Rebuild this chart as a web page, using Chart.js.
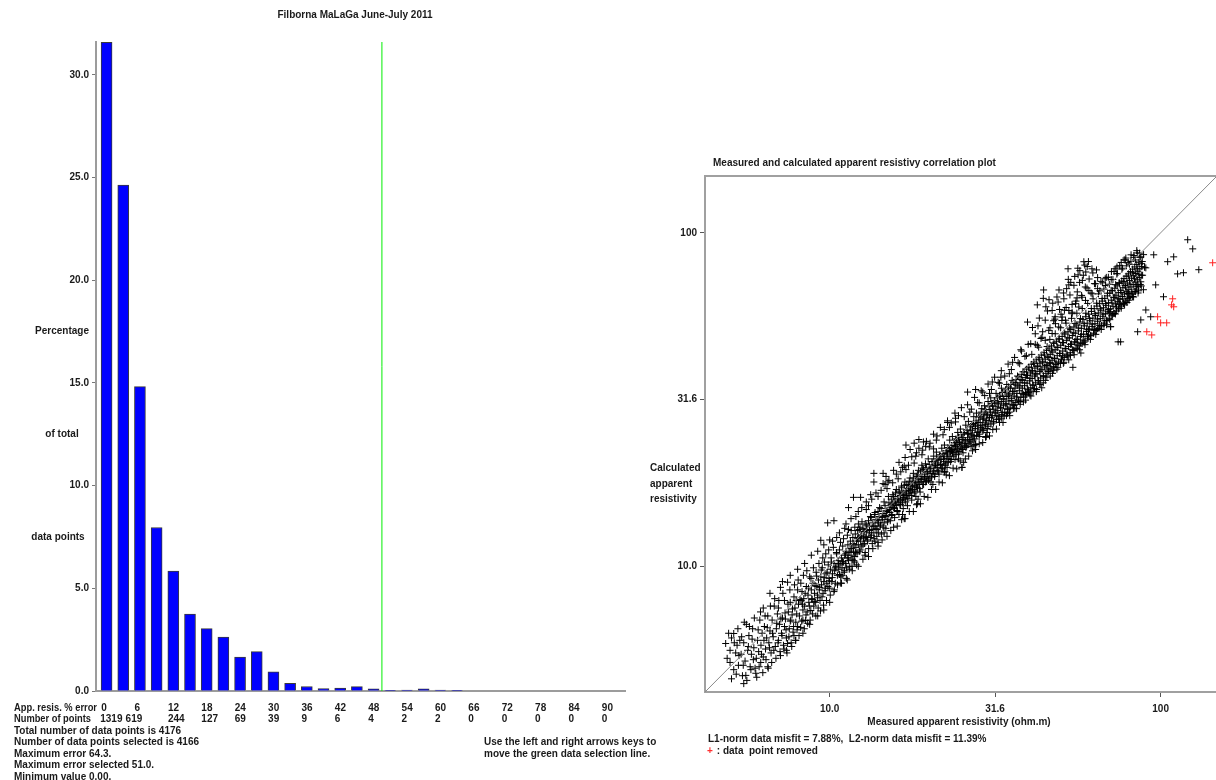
<!DOCTYPE html>
<html>
<head>
<meta charset="utf-8">
<script src="https://cdn.jsdelivr.net/npm/chart.js@4"></script>
<style>
html,body{margin:0;padding:0;background:#fff;overflow:hidden;width:1216px;height:780px;}
#histo{position:absolute;left:0;top:0;}
#corr{position:absolute;left:640px;top:0;}
</style>
</head>
<body>
<canvas id="histo" width="660" height="780"></canvas>
<canvas id="corr" width="582" height="780"></canvas>
<script>
// ---- histogram data (percentage of total data points per 3% error bin)
var binCenters = [1.5,4.5,7.5,10.5,13.5,16.5,19.5,22.5,25.5,28.5,31.5,34.5,37.5,40.5,43.5,46.5,49.5,52.5,55.5,58.5,61.5,64.5];
var binPercent = [31.59,24.63,14.82,7.96,5.84,3.74,3.04,2.63,1.65,1.92,0.93,0.37,0.22,0.12,0.14,0.21,0.10,0.03,0.05,0.10,0.05,0.03];
var errorLabels = [0,6,12,18,24,30,36,42,48,54,60,66,72,78,84,90];
var pointCounts = [1319,619,244,127,69,39,9,6,4,2,2,0,0,0,0,0];
var maxErrorSelected = 51.0;
var percentMax = 31.6;
var summaryLines = ['Total number of data points is 4176','Number of data points selected is 4166','Maximum error 64.3.','Maximum error selected 51.0.','Minimum value 0.00.'];

// ---- correlation plot data: [measured, calculated] in ohm.m
var fitPoints = [
[4.85,5.87],[4.9,5.3],[5.0,5.15],[5.0,5.6],[5.05,6.1],[5.13,6.29],[5.13,4.9],[5.2,5.5],[5.25,5.8],[5.3,5.05],[5.35,6.0],[5.4,5.45],[5.45,4.7],[5.5,4.45],[5.5,5.9],[5.55,5.2],[5.58,4.71],[5.6,6.7],[5.65,5.6],[5.7,6.2],[5.75,5.0],[5.8,5.45],[5.85,6.5],[5.9,5.7],[5.95,4.95],[5.98,4.78],[6.0,5.3],[6.05,6.0],[6.1,5.55],[6.15,6.9],[6.19,5.15],[6.2,5.8],[6.25,6.3],[6.3,7.5],[6.3,5.35],[6.35,6.6],[6.4,5.65],[6.45,6.1],[6.5,7.1],[6.5,5.0],[6.55,5.9],[6.6,8.3],[6.6,6.4],[6.65,5.5],[6.7,6.9],[6.75,6.15],[6.8,7.6],[6.85,5.75],[6.9,6.5],[6.95,7.2],
[4.95,6.3],[5.05,4.6],[5.15,5.9],[5.22,4.75],[5.28,6.5],[5.32,5.4],[5.42,6.15],[5.48,5.05],[5.52,6.8],[5.62,4.55],[5.68,5.75],[5.72,6.6],[5.78,4.9],[5.83,6.05],[5.88,5.25],[5.92,7.0],[6.02,4.65],[6.08,6.45],[6.12,5.0],[6.18,7.3],[6.22,5.45],[6.28,4.8],[6.33,6.0],[6.38,7.1],[6.42,5.25],[6.48,6.55],[6.52,4.95],[6.58,5.7],[6.62,7.6],[6.68,5.15],[6.72,6.3],[6.78,5.6],[6.82,8.0],[6.88,5.3],[6.92,6.75],[6.98,5.9],
[7.0,6.0],[7.0,7.5],[7.05,6.7],[7.1,5.4],[7.1,8.65],[7.15,6.3],[7.2,7.0],[7.25,5.8],[7.3,6.6],[7.3,7.9],[7.35,6.95],[7.4,6.1],[7.46,8.96],[7.46,5.87],[7.5,7.3],[7.55,6.5],[7.6,7.8],[7.6,6.85],[7.65,5.9],[7.7,7.15],[7.75,6.35],[7.8,6.2],[7.8,8.1],[7.85,7.5],[7.9,6.8],[7.95,7.2],[8.0,8.5],[8.0,6.6],[8.05,7.7],[8.1,7.1],[8.17,6.56],[8.2,7.9],[8.25,8.4],[8.3,7.4],[8.3,6.9],[8.35,8.0],[8.4,7.6],[8.46,6.88],[8.5,8.7],[8.55,7.3],[8.6,8.2],[8.65,7.8],[8.7,9.3],[8.77,7.37],[8.8,8.5],[8.85,7.95],[8.9,8.9],[8.95,7.6],[9.0,8.3],[9.07,7.8],[9.1,9.6],[9.15,8.7],[9.2,8.05],[9.25,9.1],[9.3,8.5],[9.35,7.9],[9.4,11.97],[9.4,9.3],[9.45,8.8],[9.5,9.9],[9.55,8.3],[9.6,9.0],[9.65,10.3],[9.7,8.6],[9.75,9.5],[9.8,8.9],[9.86,13.5],[9.9,10.1],[9.95,9.2],[10.0,8.6],
[7.02,7.9],[7.08,5.55],[7.12,6.95],[7.18,6.2],[7.22,8.3],[7.28,5.65],[7.33,7.25],[7.38,6.45],[7.43,5.5],[7.48,7.7],[7.53,6.15],[7.58,8.5],[7.63,6.9],[7.68,5.75],[7.72,7.45],[7.78,6.6],[7.83,8.8],[7.88,6.0],[7.92,7.9],[7.97,6.45],
[7.2,9.0],[7.6,9.4],[8.0,9.8],[8.4,10.2],[8.8,10.8],[9.2,11.1],[9.6,11.6],[10.0,12.0],[7.4,5.6],[7.9,6.0],[8.3,6.3],[8.7,6.7],[9.2,7.1],[9.6,7.4],[10.0,7.8],
[8.03,9.1],[8.08,6.2],[8.13,7.95],[8.18,8.9],[8.23,6.85],[8.28,7.7],[8.33,9.4],[8.38,6.5],[8.43,8.3],[8.48,7.15],[8.53,9.7],[8.58,6.75],[8.63,8.6],[8.68,7.6],[8.73,6.9],[8.78,9.2],[8.83,8.0],[8.88,7.2],[8.93,9.9],[8.98,7.85],[9.03,8.75],[9.08,7.1],[9.13,9.35],[9.18,8.2],[9.23,7.5],[9.28,10.2],[9.33,8.65],[9.38,7.35],[9.43,9.75],[9.48,8.1],[9.53,10.6],[9.58,7.65],[9.63,9.25],[9.68,8.45],[9.73,10.9],[9.78,7.9],[9.83,9.6],[9.88,8.7],[9.93,11.2],[9.98,9.05],
[10.04,8.2],[10.12,10.3],[10.18,9.25],[10.26,11.4],[10.33,8.5],[10.4,9.9],[10.48,11.0],[10.56,8.8],[10.63,10.2],[10.71,9.45],[10.78,11.8],[10.86,8.9],[10.93,10.35],[11.01,12.1],[11.08,9.7],[11.16,10.9],[11.23,9.2],[11.31,12.4],[11.38,10.6],[11.46,9.8],[11.53,11.3],[11.61,12.8],[11.68,10.0],[11.76,11.7],[11.83,10.4],[11.91,13.1],[11.98,11.0],[12.06,10.1],[12.13,12.1],[12.21,13.4],
[10.05,9.8],[10.1,10.6],[10.15,9.0],[10.2,9.5],[10.3,13.7],[10.3,10.2],[10.35,9.7],[10.4,8.9],[10.45,10.0],[10.5,10.9],[10.55,9.4],[10.6,10.4],[10.65,9.8],[10.7,11.2],[10.75,10.1],[10.8,9.3],[10.85,10.6],[10.9,9.9],[10.95,11.5],[11.0,10.3],[11.05,9.6],[11.1,10.8],[11.15,10.2],[11.2,13.4],[11.2,11.1],[11.25,9.9],[11.3,10.6],[11.35,11.6],[11.4,15.0],[11.4,10.4],[11.45,11.0],[11.5,10.0],[11.55,11.9],[11.6,10.8],[11.65,11.3],[11.7,10.5],[11.75,12.2],[11.8,16.1],[11.8,11.1],[11.85,11.6],[11.9,10.7],[11.95,12.5],[12.0,11.4],[12.05,11.9],[12.1,10.9],[12.15,12.8],[12.2,11.6],[12.25,12.2],[12.3,11.1],[12.35,13.1],[12.4,16.1],[12.4,11.9],[12.45,12.4],[12.5,11.5],[12.6,13.0],[12.65,12.1],[12.7,12.7],[12.75,11.7],[12.8,13.4],[12.9,12.3],[12.95,12.9],[13.0,11.9],[13.1,13.7],[13.15,12.6],[13.2,13.2],[13.3,12.2],[13.35,14.0],[13.4,12.9],[13.5,13.5],[13.6,19.0],[13.6,17.9],[13.6,12.6],[13.65,14.3],[13.7,13.2],[13.8,13.8],[13.9,12.9],[14.0,14.6],[14.05,13.5],[14.1,14.1],[14.2,13.2],[14.3,14.9],[14.4,13.8],[14.5,19.0],[14.5,17.7],[14.5,14.4],[14.6,13.5],[14.7,15.2],[14.8,14.1],[14.9,14.7],[15.0,13.8],[15.1,15.5],[15.2,14.5],
[10.2,11.9],[10.7,12.6],[11.1,13.0],[11.6,13.9],[12.0,14.1],[12.5,15.0],[12.9,14.8],[13.4,15.9],[13.8,16.6],[14.3,16.9],[14.7,17.6],[15.1,18.1],[10.5,12.2],[11.4,12.9],[12.2,14.6],[13.1,15.2],[14.0,16.2],[14.9,17.1],
[10.3,8.4],[10.8,8.9],[11.3,9.1],[11.7,9.7],[12.2,10.0],[12.6,10.5],[13.1,10.7],[13.5,11.3],[14.0,11.5],[14.4,12.0],[14.9,12.3],[15.3,12.8],[10.9,9.4],[11.9,10.3],[12.8,11.0],[13.7,11.9],[14.6,12.6],
[12.28,12.9],[12.36,11.2],[12.44,12.3],[12.52,13.6],[12.61,11.6],[12.69,12.7],[12.78,10.8],[12.86,12.2],[12.94,13.3],[13.03,12.0],[13.11,11.3],[13.2,12.8],[13.28,14.1],[13.37,12.4],[13.45,11.7],[13.54,13.2],[13.62,12.1],[13.71,14.5],[13.8,13.0],[13.88,12.3],[13.97,13.7],[14.06,12.6],[14.15,15.0],[14.24,13.3],[14.33,12.5],[14.42,14.0],[14.51,13.1],[14.6,15.6],[14.69,14.2],[14.78,13.0],[14.87,14.6],[14.96,13.6],[15.05,16.2],[15.14,14.8],[15.24,13.7],[15.33,15.3],[15.42,14.2],[15.52,16.4],[15.61,15.0],[15.71,14.0],[15.8,15.5],[15.9,17.0],[15.99,14.7],[16.09,15.9],[16.19,14.3],[16.29,16.6],[16.38,15.3],[16.48,17.4],[16.58,15.8],[16.68,14.9],[16.78,16.4],[16.88,17.9],[16.98,15.6],[17.08,16.9],[17.18,15.2],[17.28,17.5],[17.38,16.3],[17.49,18.4],[17.59,16.7],[17.69,15.8],[17.8,17.3],[17.9,19.0],[18.01,16.6],[18.11,17.8],[18.22,16.2],[18.33,18.6],[18.43,17.2],[18.54,19.4],[18.65,17.6],[18.76,16.7],[18.87,18.2],[18.98,20.1],
[12.9,15.6],[13.3,16.4],[14.8,18.6],[15.6,19.4],[16.2,20.5],[16.9,21.2],[17.5,22.4],[18.3,21.9],[15.0,17.9],[16.6,19.8],[18.6,24.0],[19.2,23.6],[14.0,11.8],[16.8,13.9],[18.4,15.4],
[15.5,17.8],[15.9,18.9],[16.4,19.2],[16.8,20.0],[17.3,20.1],[17.7,21.3],[18.2,21.4],[18.6,22.6],[19.1,22.3],[19.6,23.7],[20.1,23.4],[20.6,24.9],[21.1,24.6],[21.6,26.1],[22.2,25.7],[22.7,27.3],[23.3,26.9],[23.9,28.8],[24.5,28.3],[25.0,29.9],[16.1,18.3],[17.0,19.5],[18.0,20.4],[19.0,21.6],[20.0,22.8],[21.0,23.9],[22.0,24.8],[23.0,26.1],[24.0,27.1],
[15.6,13.1],[16.0,13.2],[16.5,13.8],[16.9,13.9],[17.4,14.6],[17.9,14.6],[18.3,15.3],[18.8,15.4],[19.3,16.2],[19.8,16.1],[20.3,17.0],[20.9,17.0],[21.4,17.9],[21.9,17.8],[22.5,18.8],[23.0,18.7],[23.6,19.7],[24.2,19.6],[24.8,20.7],[25.4,20.5],[16.6,14.3],[18.5,15.9],[20.5,17.6],[22.3,19.2],[24.5,21.0],
[15.3,15.0],[15.35,15.9],[15.4,14.3],[15.5,15.4],[15.6,16.2],[15.7,14.9],[15.75,15.7],[15.8,16.6],[15.9,15.2],[16.0,14.6],[16.05,16.0],[16.1,15.6],[16.2,16.8],[16.3,15.3],[16.35,16.3],[16.4,15.8],[16.5,17.2],[16.6,15.5],[16.65,16.6],[16.7,16.1],[16.8,17.5],[16.9,15.9],[17.0,23.1],[17.0,16.8],[17.05,16.3],[17.1,17.6],[17.2,16.0],[17.3,17.1],[17.35,16.5],[17.4,18.0],[17.5,16.9],[17.6,17.4],[17.7,16.3],[17.75,17.9],[17.8,17.0],[17.9,18.4],[18.0,23.4],[18.0,17.5],[18.1,16.8],[18.2,18.0],[18.3,17.3],[18.4,18.8],[18.5,17.8],[18.6,18.3],[18.7,17.1],[18.8,19.2],[18.9,18.0],[19.0,18.6],[19.1,17.6],[19.2,19.5],[19.3,18.3],[19.4,18.9],[19.5,22.9],[19.5,17.9],[19.6,19.8],[19.7,18.6],[19.8,19.2],[19.9,18.1],[20.0,20.2],[20.1,19.0],[20.2,19.6],[20.3,18.5],[20.5,20.6],[20.6,22.5],[20.6,19.3],[20.7,20.0],[20.8,18.9],[21.0,21.0],[21.1,19.8],[21.2,20.4],[21.3,19.2],[21.5,21.4],[21.6,20.2],[21.7,20.9],[21.8,19.7],[22.0,21.8],[22.1,20.6],[22.2,19.2],[22.2,21.3],[22.3,20.1],[22.5,22.2],[22.6,21.0],[22.7,27.0],[22.7,21.7],[22.8,20.5],[23.0,22.6],[23.1,21.4],[23.2,22.1],[23.3,20.9],
[19.1,19.7],[19.22,17.6],[19.35,18.5],[19.47,20.3],[19.6,18.0],[19.72,19.2],[19.85,21.0],[19.97,18.3],[20.1,19.7],[20.23,17.9],[20.36,20.6],[20.49,19.0],[20.62,21.4],[20.75,18.6],[20.88,20.1],[21.01,22.0],[21.14,19.4],[21.27,20.8],[21.4,18.9],[21.54,21.6],[21.67,20.1],[21.81,22.6],[21.94,19.6],[22.08,21.0],[22.22,23.1],[22.35,20.3],[22.49,21.9],[22.63,19.8],[22.77,22.7],[22.91,21.0],[23.05,23.9],[23.2,20.6],[23.34,22.2],[23.48,24.5],[23.63,21.4],[23.78,23.0],[23.92,20.9],[24.07,24.1],[24.22,22.3],[24.37,25.2],[24.52,21.7],[24.67,23.5],[24.83,25.8],[24.98,22.6],[25.14,24.3],[25.29,21.9],[25.45,25.1],[25.61,23.3],[25.77,26.5],[25.93,22.9],[26.09,24.9],[26.25,27.2],[26.41,23.6],[26.58,25.6],[26.74,22.9],[26.91,26.6],[27.08,24.6],[27.25,28.1],[27.42,24.1],[27.59,26.3],[27.76,28.8],[27.93,25.2],[28.1,27.0],[28.28,24.5],[28.46,28.2],[28.63,26.1],[28.81,29.7],[28.99,25.6],[29.17,27.8],[29.35,30.3],[29.54,26.6],[29.72,28.6],[29.91,25.9],
[23.4,23.0],[23.5,21.9],[23.6,22.4],[23.8,23.5],[23.9,22.0],[24.0,27.8],[24.0,22.9],[24.1,21.6],[24.2,23.8],[24.3,22.5],[24.4,23.2],[24.5,24.4],[24.6,22.1],[24.7,23.6],[24.8,22.8],[25.0,24.8],[25.1,19.8],[25.1,23.3],[25.2,22.4],[25.3,24.0],[25.5,25.2],[25.6,23.0],[25.7,23.8],[25.8,22.7],[26.0,25.6],[26.1,33.3],[26.1,24.3],[26.2,23.3],[26.3,25.0],[26.5,24.0],[26.6,26.2],[26.7,23.6],[26.8,24.8],[27.0,25.6],[27.1,23.9],[27.2,26.8],[27.3,24.6],[27.5,25.9],[27.6,33.9],[27.6,23.2],[27.7,27.3],[27.8,24.7],[28.0,26.5],[28.1,25.3],[28.2,28.0],[28.4,24.9],[28.5,27.0],[28.6,25.8],[28.7,29.0],[28.9,26.4],[29.0,33.3],[29.0,27.6],[29.2,25.6],[29.3,28.6],[29.5,26.9],[29.6,24.4],[29.6,29.5],[29.8,27.4],[30.0,28.4],[30.1,26.3],[30.3,30.2],[30.4,27.9],[30.6,29.0],[30.7,26.7],[30.9,30.8],[31.0,35.7],[31.0,28.3],[31.2,29.6],[31.3,27.2],[31.5,31.4],[31.6,28.8],[31.8,30.1],[31.9,27.6],[32.1,32.0],[32.2,29.3],[32.4,30.7],[32.5,28.1],[32.7,32.6],[32.9,36.9],[32.9,29.8],[33.0,31.2],[33.1,28.5],[33.3,33.2],[33.5,30.3],[33.6,31.8],[33.8,29.0],[34.0,33.8],[34.1,30.8],[34.3,32.3],[34.5,28.8],[34.5,29.5],[34.7,34.5],[34.8,31.3],[35.0,32.9],[35.1,30.0],[35.3,35.1],[35.5,31.9],[35.7,40.9],[35.7,33.4],[35.8,30.5],
[25.5,28.1],[26.1,30.5],[26.8,29.6],[27.4,32.1],[28.0,31.0],[28.7,33.6],[29.4,32.5],[30.1,35.2],[30.8,33.9],[31.5,36.9],[32.3,35.6],[33.0,38.6],[33.8,37.2],[34.6,40.4],[35.4,38.9],[36.2,42.3],[37.1,40.8],[38.0,44.2],[38.9,42.6],[39.8,46.3],[26.5,29.0],[28.3,30.9],[30.4,33.0],[32.6,35.4],[34.9,37.8],[37.5,40.5],[39.3,42.8],
[25.7,21.0],[26.3,21.4],[27.0,22.2],[27.6,22.4],[28.3,23.3],[29.0,23.5],[29.7,24.5],[30.4,24.6],[31.1,25.7],[31.9,25.8],[32.6,27.0],[33.4,27.0],[34.2,28.3],[35.0,28.3],[35.9,29.7],[36.7,29.7],[37.6,31.2],[38.5,31.1],[39.4,32.7],[40.3,32.6],[27.3,23.0],[29.9,25.2],[33.0,27.8],[36.1,30.4],[39.0,32.9],
[30.1,31.2],[30.28,27.3],[30.47,29.5],[30.66,32.0],[30.85,28.0],[31.04,30.3],[31.24,26.9],[31.43,31.1],[31.63,29.0],[31.82,33.0],[32.02,28.3],[32.22,30.9],[32.42,27.6],[32.62,32.3],[32.82,29.9],[33.03,34.2],[33.23,28.9],[33.44,31.7],[33.65,28.2],[33.86,33.3],[34.07,30.6],[34.28,35.1],[34.5,29.7],[34.71,32.6],[34.93,29.0],[35.15,34.2],[35.37,31.4],[35.59,36.1],[35.81,30.5],[36.03,33.5],[36.26,29.8],[36.48,35.2],[36.71,32.2],[36.94,37.2],[37.17,31.3],[37.4,34.5],[37.64,30.6],[37.87,36.3],[38.11,33.0],[38.35,38.3],[38.59,32.2],[38.83,35.5],[39.07,31.5],[39.32,37.4],[39.56,34.0],[39.81,39.4],[40.06,33.1],[40.31,36.6],[40.56,32.4],[40.82,38.5],[41.07,35.0],[41.33,40.6],[41.59,34.1],[41.85,37.7],[42.11,33.4],[42.38,39.7],[42.64,36.0],[42.91,41.8],[43.18,35.1],[43.45,38.8],[43.72,34.3],[43.99,40.9],[44.27,37.1],[44.55,43.0],[44.83,36.1],
[36.0,35.6],[36.1,32.4],[36.3,34.2],[36.5,31.0],[36.6,36.3],[36.8,33.0],[37.0,34.9],[37.1,31.5],[37.3,37.0],[37.5,33.6],[37.6,35.5],[37.8,44.6],[37.8,32.1],[38.0,37.6],[38.2,34.2],[38.3,36.1],[38.5,32.7],[38.7,38.3],[38.8,34.8],[39.0,36.8],[39.1,33.2],[39.3,39.0],[39.5,35.4],[39.6,54.0],[39.6,37.4],[39.8,33.8],[39.9,33.3],[40.0,39.6],[40.2,36.0],[40.4,38.0],[40.5,34.3],[40.7,40.3],[40.9,36.6],[41.0,38.6],[41.2,34.9],[41.4,41.0],[41.6,37.2],[41.7,39.3],[41.9,35.5],[42.1,41.6],[42.3,37.8],[42.4,46.0],[42.5,39.9],[42.7,36.1],[42.9,42.3],[43.1,38.4],[43.2,40.5],[43.4,36.7],[43.6,43.0],[43.8,39.0],[44.0,41.2],[44.2,37.3],[44.3,67.4],[44.4,43.7],[44.6,39.6],[44.8,41.8],[45.0,37.9],[45.2,44.4],[45.4,40.2],[45.6,42.5],[45.8,38.5],[46.0,63.0],[46.0,45.1],[46.2,40.8],[46.4,43.2],[46.6,39.1],[46.8,45.8],[47.0,41.5],[47.2,43.9],[47.4,39.7],[47.6,46.6],[47.8,42.1],[48.0,56.0],[48.0,44.6],[48.2,40.3],[48.5,47.3],[48.7,42.8],[48.9,45.3],[49.1,41.0],[49.4,48.1],[49.6,43.5],[49.9,46.0],[50.1,41.6],[50.4,48.9],[50.6,44.2],[50.9,66.0],[50.9,46.8],[51.1,42.3],[51.4,49.7],[51.7,44.9],[51.9,47.6],[52.2,43.0],[52.5,50.5],[52.7,45.6],[53.0,48.4],[53.3,43.7],[53.5,71.0],[53.5,51.3],[53.8,46.4],[54.1,49.2],[54.4,44.4],[54.7,52.2],[54.9,47.1],[55.2,50.0],[55.5,45.1],
[40.8,43.2],[41.8,46.3],[42.8,45.4],[43.8,48.6],[44.8,47.6],[45.9,51.0],[47.0,49.9],[48.1,53.4],[49.2,52.2],[50.4,55.9],[51.6,54.7],[52.8,58.5],[54.0,57.2],[55.3,61.3],[56.6,59.9],[57.9,64.1],[59.3,62.7],[60.7,67.1],[62.1,65.6],[63.6,70.3],[44.0,50.5],[47.5,54.5],[51.2,58.6],[55.9,63.8],[59.9,68.3],[64.5,73.4],
[41.2,33.5],[42.2,33.9],[43.2,35.2],[44.2,35.5],[45.3,36.9],[46.4,37.2],[47.5,38.7],[48.6,39.0],[49.8,40.6],[51.0,40.9],[52.2,42.5],[53.4,42.9],[54.7,44.5],[56.0,44.9],[57.3,46.7],[58.7,47.0],[60.1,48.9],[61.5,49.3],[63.0,51.3],[64.5,51.6],[46.0,39.0],[50.5,42.8],[55.5,47.0],[60.5,51.2],
[45.1,40.0],[45.39,45.6],[45.67,38.4],[45.96,42.3],[46.25,47.9],[46.54,40.6],[46.84,44.5],[47.13,37.9],[47.43,46.8],[47.73,42.0],[48.03,49.8],[48.33,40.7],[48.63,45.4],[48.94,39.5],[49.25,48.0],[49.56,43.5],[49.87,51.9],[50.18,41.8],[50.5,46.9],[50.82,40.6],[51.14,50.1],[51.46,45.0],[51.78,53.6],[52.11,43.3],[52.43,48.4],[52.76,41.6],[53.1,51.8],[53.43,46.3],[53.77,55.4],[54.1,44.6],[54.44,50.1],[54.79,43.1],[55.13,53.5],[55.48,47.9],[55.83,57.4],[56.18,46.1],[56.53,51.8],[56.89,44.6],[57.24,55.3],[57.6,49.6],[57.97,59.3],[58.33,47.7],[58.7,53.4],[59.07,46.2],[59.44,57.4],[59.81,51.4],[60.19,61.4],[60.57,49.4],[60.95,55.3],[61.33,47.9],[61.72,59.3],[62.11,53.2],[62.5,63.4],[62.89,51.0],[63.28,57.2],[63.68,49.6],[64.08,61.5],[64.49,55.1],[64.89,65.6],[65.3,52.8],[65.71,59.2],[66.13,51.3],[66.54,63.5],[66.96,57.0],[67.38,67.8],[67.81,54.5],[68.23,61.4],[68.66,53.0],[69.09,65.9],[69.53,58.9],[69.97,70.1],
[41.0,52.0],[43.0,55.5],[45.0,60.0],[47.0,58.5],[49.0,62.0],[52.0,68.0],[55.0,74.0],[57.0,77.0],[59.0,80.0],[58.0,72.0],[56.0,66.5],[54.0,61.0],[50.0,57.0],[60.5,82.0],[62.0,78.0],[44.2,63.6],[42.4,60.8],[49.3,67.4],[52.8,69.8],[56.3,74.8],[58.6,81.9],[52.5,78.0],[54.3,39.5],[57.4,43.6],[47.6,39.4],
[40.5,46.5],[41.8,49.8],[42.6,52.6],[43.5,48.2],[44.8,54.7],[45.5,58.3],[46.3,51.9],[47.2,61.5],[47.9,55.1],[48.6,64.2],[49.5,58.9],[50.3,54.6],[51.0,63.4],[51.8,59.7],[52.6,72.5],[53.2,65.1],[54.0,57.8],[54.7,69.6],[55.5,62.4],[56.2,78.3],[56.9,71.0],[57.7,64.9],[58.4,74.6],[59.2,68.8],[60.0,79.2],[60.8,72.7],[61.6,66.0],[62.4,75.8],[63.1,70.4],[64.0,77.4],
[55.8,52.9],[56.1,48.0],[56.4,50.8],[56.7,45.8],[57.0,54.0],[57.3,48.9],[57.6,51.7],[57.9,46.6],[58.2,55.0],[58.5,49.7],[58.8,52.6],[59.1,47.4],[59.4,56.0],[59.4,76.3],[59.7,50.6],[60.0,53.6],[60.3,48.3],[60.6,57.0],[60.9,51.5],[61.2,54.5],[61.5,49.1],[61.8,58.1],[62.1,52.4],[62.4,55.5],[62.7,50.0],[63.0,59.2],[63.3,53.4],[63.6,56.5],[63.9,50.9],[64.2,60.3],[64.5,54.3],[64.8,57.5],[65.1,51.8],[65.4,61.3],[65.7,55.3],[66.0,58.6],[66.3,52.7],[66.6,62.4],[66.9,56.2],[67.2,59.6],[67.5,53.6],[67.8,63.6],[68.1,57.2],[68.4,60.6],[68.7,54.5],[69.0,64.7],[69.3,58.2],[69.6,61.7],[69.9,55.4],[70.2,65.9],[70.6,52.3],[70.6,59.2],[70.9,62.8],[71.2,56.4],[71.5,67.0],[71.8,60.2],[72.1,63.9],[72.4,57.3],[72.7,68.2],[73.0,61.2],[73.3,65.0],[73.6,58.3],[73.9,69.3],[74.2,62.3],[74.4,47.1],[74.5,66.1],[74.8,59.3],[75.1,70.5],[75.4,63.3],[75.7,67.2],[75.7,47.1],[76.0,60.3],[76.3,71.7],[76.6,64.4],[76.9,68.4],[77.2,61.4],[77.5,72.9],[77.8,65.5],[78.1,69.5],[78.4,62.4],[78.7,74.1],[79.0,66.6],[79.3,70.7],[79.6,63.5],[79.9,75.3],[80.2,67.7],[80.5,71.9],[80.8,64.5],[81.1,76.5],[81.4,68.8],[81.7,73.1],[82.0,65.6],[82.3,77.8],[82.6,70.0],[82.9,74.3],[83.2,66.7],[83.5,79.0],[83.8,71.1],[84.1,75.5],[84.4,67.8],[84.7,80.3],[85.0,72.3],[85.2,50.5],[85.3,76.7],[85.6,68.9],[85.9,81.6],[86.2,73.4],[86.5,78.0],[86.8,70.0],[87.1,84.7],[87.1,54.8],[87.4,74.6],[87.7,79.2],[88.0,82.0],[88.7,67.5],
[65.5,67.0],[66.8,70.8],[68.1,69.5],[69.5,73.6],[70.9,72.4],[72.3,76.6],[73.7,75.4],[75.2,79.7],[76.7,78.3],[78.2,82.8],[79.8,81.4],[81.4,85.9],[83.0,84.4],[84.7,88.4],[86.4,86.9],[68.0,72.8],[72.9,78.0],[77.6,83.0],
[66.1,52.5],[67.4,52.8],[68.8,54.6],[70.2,54.9],[71.6,56.8],[73.0,57.1],[74.5,59.1],[76.0,59.4],[77.5,61.5],[79.1,61.8],[80.7,64.0],[82.3,64.4],[84.0,66.6],[85.7,67.0],[87.4,69.3],[70.0,57.5],[75.0,61.6],[80.0,65.8],[85.0,70.0],
[70.4,58.0],[70.85,67.2],[71.3,61.6],[71.75,72.4],[72.2,57.3],[72.65,64.1],[73.1,69.9],[73.56,59.9],[74.02,75.4],[74.48,63.4],[74.95,70.9],[75.42,61.0],[75.9,66.2],[76.37,77.8],[76.85,63.3],[77.33,71.4],[77.82,60.8],[78.31,68.7],[78.8,79.6],[79.3,65.9],[79.79,74.2],[80.3,62.8],[80.8,70.1],[81.3,82.0],[81.81,66.4],[82.33,76.1],[82.84,64.2],[83.36,72.8],[83.89,82.9],[84.41,69.2],[84.94,78.0],[85.47,66.0],[86.01,75.1],[86.55,84.4],[87.09,71.3],[87.63,80.8],[88.2,74.6],[88.8,86.0],[89.4,78.8],[85.0,87.0],[83.0,85.5],[80.5,80.5],[78.5,84.0],[76.0,81.5],[73.8,79.0],[71.0,76.5],[68.5,73.5],[66.0,71.5],[64.5,68.0],
[95.3,85.9],[90.2,78.5],[105,81.9],[109.5,84.7],[120.7,95.3],[125,89.5],[130.4,77.5],[112.5,75.3],[117.2,75.9],[96.6,69.8],[102,64.3],[93.3,56.0],[90.2,58.7],[70.6,52.3],[22.2,19.2],[25.1,19.8],[27.6,23.2],[29.6,24.4],[34.5,28.8],[39.9,33.3]
];
var removedPoints = [[143.6,81.3],[108.7,63.4],[107.9,60.8],[109.5,60.0],[97.9,56.0],[100,53.7],[104.3,53.7],[90.8,50.5],[94.0,49.4]];
var axisMin = 4.2, axisMax = 148;
var resTicks = [10, 31.6, 100];
var resTickLabels = ['10.0', '31.6', '100'];

var FONT = "'Liberation Sans', Arial, sans-serif";
var TXT = '#1a1a1a';

function txt(ctx, s, x, y, align, color, maxW){
    ctx.fillStyle = color || TXT;
    ctx.textAlign = align || 'left';
    if (maxW) ctx.fillText(s, x, y, maxW);
    else ctx.fillText(s, x, y);
}

// ---------------- histogram ----------------
var histoText = {
    id: 'histoText',
    afterDraw: function(chart){
        var ctx = chart.ctx, xs = chart.scales.x, ys = chart.scales.y;
        ctx.save();
        ctx.font = 'bold 10px ' + FONT;
        ctx.textBaseline = 'middle';
        txt(ctx, 'Filborna MaLaGa June-July 2011', 355, 15, 'center');
        txt(ctx, 'Percentage', 62, ys.getPixelForValue(17.5), 'center');
        txt(ctx, 'of total', 62, ys.getPixelForValue(12.5), 'center');
        txt(ctx, 'data points', 58, ys.getPixelForValue(7.5), 'center');
        txt(ctx, 'App. resis. % error', 14, 708, 'left', TXT, 83);
        txt(ctx, 'Number of points', 14, 719, 'left', TXT, 77);
        for (var i = 0; i < errorLabels.length; i++){
            var px = xs.getPixelForValue(errorLabels[i]) + 3;
            txt(ctx, String(errorLabels[i]), px, 708);
            var cx = px;
            if (i == 0) cx = px - 1;
            if (i == 1) cx = px - 9;
            txt(ctx, String(pointCounts[i]), cx, 719);
        }
        for (var j = 0; j < summaryLines.length; j++){
            txt(ctx, summaryLines[j], 14, 731 + j * 11.5);
        }
        txt(ctx, 'Use the left and right arrows keys to', 484, 742);
        txt(ctx, 'move the green data selection line.', 484, 754);
        ctx.restore();
    }
};

new Chart(document.getElementById('histo'), {
    type: 'bar',
    data: {
        datasets: [{
            type: 'line',
            data: [{x: maxErrorSelected, y: 0}, {x: maxErrorSelected, y: percentMax}],
            borderColor: '#00ee00',
            borderWidth: 1,
            pointRadius: 0
        }, {
            data: binCenters.map(function(x, i){ return {x: x, y: binPercent[i]}; }),
            backgroundColor: '#0000ff',
            borderColor: '#3a3a3a',
            borderWidth: 1,
            barThickness: 11
        }]
    },
    options: {
        responsive: false,
        animation: false,
        events: [],
        layout: {padding: {top: 42, right: 35, left: 0, bottom: 0}},
        plugins: {legend: {display: false}, tooltip: {enabled: false}},
        scales: {
            x: {
                type: 'linear', min: -0.4, max: 94.7, offset: false,
                ticks: {display: false},
                grid: {display: false},
                border: {color: '#9c9c9c', width: 2},
                afterFit: function(s){ s.height = 89; }
            },
            y: {
                min: 0, max: percentMax,
                ticks: {stepSize: 5, includeBounds: false, padding: 3, color: TXT,
                    font: {family: FONT, size: 10, weight: 'bold'},
                    callback: function(v){ return v.toFixed(1); }},
                grid: {drawOnChartArea: false, tickLength: 4, color: '#777'},
                border: {color: '#9c9c9c', width: 2},
                afterFit: function(s){ s.width = 96; }
            }
        }
    },
    plugins: [histoText]
});

// ---------------- correlation plot ----------------
var corrText = {
    id: 'corrText',
    beforeDatasetsDraw: function(chart){
        var a = chart.chartArea, ctx = chart.ctx;
        ctx.save();
        ctx.strokeStyle = '#a0a0a0';
        ctx.lineWidth = 2;
        ctx.strokeRect(a.left, a.top, a.right - a.left, a.bottom - a.top);
        ctx.restore();
    },
    afterDraw: function(chart){
        var ctx = chart.ctx;
        ctx.save();
        ctx.font = 'bold 10px ' + FONT;
        ctx.textBaseline = 'middle';
        txt(ctx, 'Measured and calculated apparent resistivy correlation plot', 73, 163);
        txt(ctx, 'Calculated', 10, 468);
        txt(ctx, 'apparent', 10, 484);
        txt(ctx, 'resistivity', 10, 499);
        txt(ctx, 'Measured apparent resistivity (ohm.m)', 319, 722, 'center');
        txt(ctx, 'L1-norm data misfit = 7.88%,  L2-norm data misfit = 11.39%', 68, 739);
        txt(ctx, '+', 67, 751, 'left', '#ff3030');
        txt(ctx, ' : data  point removed', 74, 751);
        ctx.restore();
    }
};

function resAxis(isX){
    return {
        type: 'logarithmic', min: axisMin, max: axisMax,
        afterBuildTicks: function(s){ s.ticks = resTicks.map(function(v){ return {value: v}; }); },
        ticks: {autoSkip: false, padding: isX ? 6 : 3, color: TXT, maxRotation: 0,
            font: {family: FONT, size: 10, weight: 'bold'},
            callback: function(v, i){ return resTickLabels[i]; }},
        grid: {drawOnChartArea: false, tickLength: 5, color: '#555'},
        border: {color: '#a0a0a0', width: 2},
        afterFit: function(s){ if (isX) s.height = 88; else s.width = 65; }
    };
}

new Chart(document.getElementById('corr'), {
    type: 'scatter',
    data: {
        datasets: [{
            type: 'line',
            data: [{x: axisMin, y: axisMin}, {x: axisMax, y: axisMax}],
            borderColor: '#8a8a8a',
            borderWidth: 1,
            pointRadius: 0
        }, {
            data: fitPoints.map(function(p){ return {x: p[0], y: p[1]}; }),
            pointStyle: 'cross',
            pointRadius: 3.5,
            borderWidth: 1,
            borderColor: '#000'
        }, {
            data: removedPoints.map(function(p){ return {x: p[0], y: p[1]}; }),
            pointStyle: 'cross',
            pointRadius: 3.5,
            borderWidth: 1,
            borderColor: '#ff2020'
        }]
    },
    options: {
        responsive: false,
        animation: false,
        events: [],
        layout: {padding: {top: 176, right: 1, left: 0, bottom: 0}},
        plugins: {legend: {display: false}, tooltip: {enabled: false}},
        scales: {x: resAxis(true), y: resAxis(false)}
    },
    plugins: [corrText]
});
</script>
</body>
</html>
